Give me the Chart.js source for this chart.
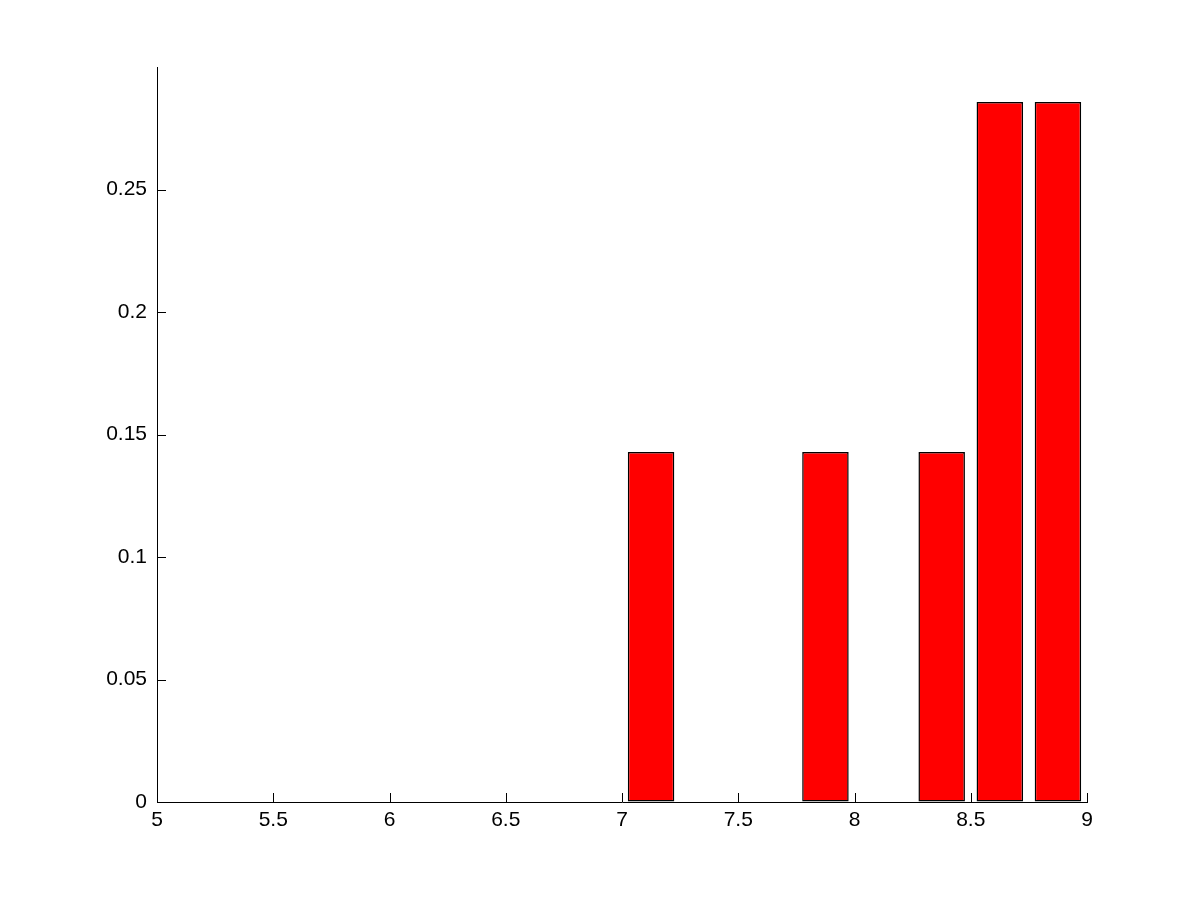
<!DOCTYPE html>
<html>
<head>
<meta charset="utf-8">
<script src="https://cdn.jsdelivr.net/npm/chart.js@4"></script>
<style>
  html, body { margin: 0; padding: 0; background: #fff; }
  #wrap { width: 1201px; height: 901px; }
</style>
</head>
<body>
<div id="wrap"><canvas id="grafico"></canvas></div>
<script>
// histograma normalizado (estilo MATLAB)
var binCenters = [7.125, 7.875, 8.375, 8.625, 8.875];
var frequencias = [0.1429, 0.1429, 0.1429, 0.2857, 0.2857];
var xTickStep = 0.5;
var yTickStep = 0.05;

// marcas de escala para dentro, como no MATLAB
var ticksInternos = {
    id: 'ticksInternos',
    afterDraw: function (chart) {
        var ctx = chart.ctx;
        var sx = chart.scales.x;
        var sy = chart.scales.y;
        ctx.save();
        ctx.strokeStyle = '#000';
        ctx.lineWidth = 1;
        ctx.beginPath();
        sx.ticks.forEach(function (t) {
            var px = Math.round(sx.getPixelForValue(t.value)) + 0.5;
            ctx.moveTo(px, sy.bottom);
            ctx.lineTo(px, sy.bottom - 9);
        });
        sy.ticks.forEach(function (t) {
            var py = Math.round(sy.getPixelForValue(t.value)) + 0.5;
            ctx.moveTo(sx.left, py);
            ctx.lineTo(sx.left + 9, py);
        });
        ctx.stroke();
        ctx.restore();
    }
};

// rótulos sem zeros à direita: 5, 5.5, 0.2 ...
function rotulo(v) {
    return String(parseFloat(Number(v).toFixed(4)));
}

Chart.defaults.font.family = 'Arial, "Liberation Sans", sans-serif';
Chart.defaults.font.size = 21;
Chart.defaults.color = '#000';

new Chart(document.getElementById('grafico'), {
    type: 'bar',
    data: {
        datasets: [{
            data: binCenters.map(function (c, i) { return { x: c, y: frequencias[i] }; }),
            backgroundColor: '#ff0000',
            borderColor: '#000000',
            borderWidth: 1.5,
            borderSkipped: false,
            barPercentage: 0.8,
            categoryPercentage: 1.0
        }]
    },
    options: {
        responsive: true,
        maintainAspectRatio: false,
        animation: false,
        layout: { padding: { left: 0, top: 67, right: 114, bottom: 0 } },
        plugins: { legend: { display: false }, tooltip: { enabled: false } },
        scales: {
            x: {
                type: 'linear',
                min: 5,
                max: 9,
                offset: false,
                grid: { display: true, offset: false, drawOnChartArea: false, drawTicks: false, color: 'rgba(0,0,0,0)' },
                border: { display: true, color: '#000', width: 1 },
                ticks: {
                    stepSize: xTickStep, color: '#000', padding: 6, maxRotation: 0, autoSkip: false,
                    font: { size: 21 },
                    callback: function (v) { return rotulo(v); }
                },
                afterFit: function (s) { s.height = 99; }
            },
            y: {
                min: 0,
                max: 0.3,
                grid: { display: true, drawOnChartArea: false, drawTicks: false, color: 'rgba(0,0,0,0)' },
                border: { display: true, color: '#000', width: 1 },
                ticks: {
                    stepSize: yTickStep, color: '#000', padding: 10,
                    font: { size: 21 },
                    callback: function (v) { return rotulo(v); }
                },
                afterBuildTicks: function (s) {
                    s.ticks = s.ticks.filter(function (t) { return t.value < 0.29; });
                },
                afterFit: function (s) { s.width = 157; }
            }
        }
    },
    plugins: [ticksInternos]
});
</script>
</body>
</html>
